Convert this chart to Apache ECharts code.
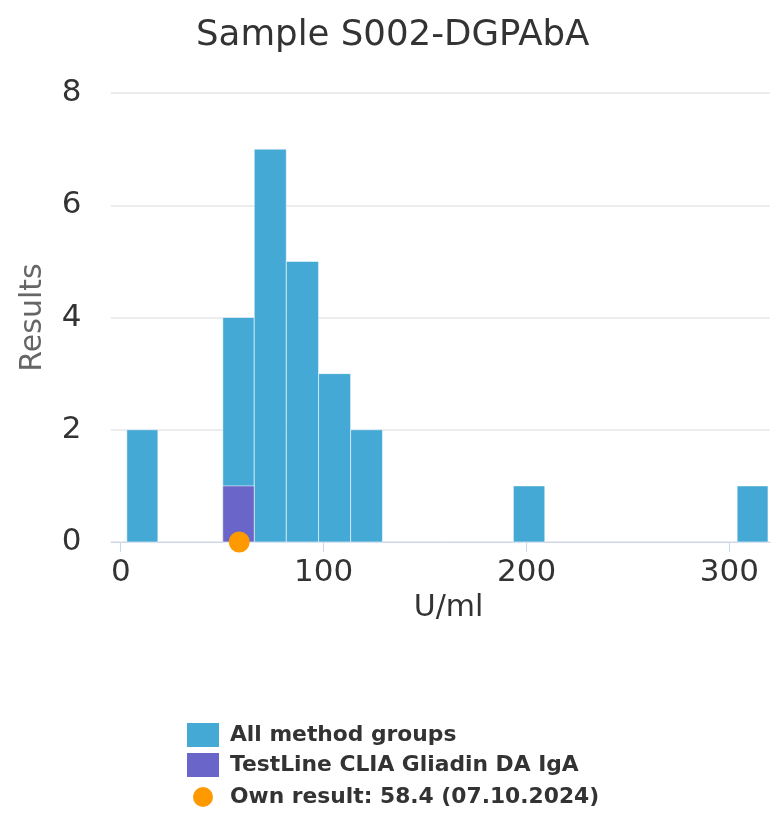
<!DOCTYPE html>
<html>
<head>
<meta charset="utf-8">
<script src="https://cdn.jsdelivr.net/npm/echarts@6/dist/echarts.min.js"></script>
<style>html,body{margin:0;padding:0;background:#fff}#c{width:775px;height:815px}</style>
</head>
<body>
<div id="c"></div>
<script>
// Histogram bins (U/ml) and counts
var allLo = [3, 50.3, 65.8, 81.6, 97.5, 113.3, 193.5, 303.8];
var allHi = [18.3, 65.8, 81.6, 97.5, 113.3, 129, 209, 319];
var allCounts = [2, 4, 7, 5, 3, 2, 1, 1];
var grpLo = [50.3];
var grpHi = [65.8];
var grpCounts = [1];
var ownResult = [58.4];
var xTicks = [0, 100, 200, 300];
var titleText = 'Sample S002-DGPAbA';
var seriesNames = ['All method groups', 'TestLine CLIA Gliadin DA IgA', 'Own result: 58.4 (07.10.2024)'];

function rows(lo, hi, c) { return lo.map(function (v, i) { return [v, hi[i], c[i]]; }); }
function renderBin(params, api) {
  var p1 = api.coord([api.value(0), api.value(2)]);
  var p2 = api.coord([api.value(1), 0]);
  return {
    type: 'rect',
    shape: { x: p1[0], y: p1[1], width: p2[0] - p1[0], height: p2[1] - p1[1] },
    style: api.style({ stroke: 'rgba(255,255,255,0.55)', lineWidth: 1 })
  };
}
var FONT = 'DejaVu Sans';
var chart = echarts.init(document.getElementById('c'), null, { renderer: 'canvas' });
var legendText = { fontFamily: FONT, fontWeight: 'bold', fontSize: 21.8, color: '#333', lineHeight: 24, padding: [0, 0, 0, 6] };
chart.setOption({
  animation: false,
  title: {
    text: titleText, left: 196, top: 18, padding: 0,
    textStyle: { fontFamily: FONT, fontWeight: 'normal', fontSize: 35.6, color: '#333' }
  },
  legend: [
    { data: [seriesNames[0]], left: 187, top: 723, padding: 0, itemWidth: 32, itemHeight: 24, icon: 'rect', textStyle: legendText, selectedMode: false },
    { data: [seriesNames[1]], left: 187, top: 753, padding: 0, itemWidth: 32, itemHeight: 24, icon: 'rect', textStyle: legendText, selectedMode: false },
    { data: [seriesNames[2]], left: 193, top: 785, padding: 0, itemWidth: 32, itemHeight: 20, icon: 'circle', textStyle: legendText, selectedMode: false }
  ],
  grid: { left: 111, right: 5, top: 93, bottom: 273 },
  xAxis: {
    type: 'value', min: -4.8, max: 320,
    name: 'U/ml', nameLocation: 'middle', nameGap: 45,
    nameTextStyle: { fontFamily: FONT, fontSize: 30, color: '#333', padding: [0, 0, 0, 16] },
    axisLine: { show: true, lineStyle: { color: '#ccd6eb', width: 1 } },
    axisTick: { show: true, length: 10, lineStyle: { color: '#ccd6eb' }, customValues: xTicks },
    axisLabel: { fontFamily: FONT, fontSize: 31, color: '#333', margin: 15, customValues: xTicks },
    splitLine: { show: false }
  },
  yAxis: {
    type: 'value', min: 0, max: 8, interval: 2,
    name: 'Results', nameLocation: 'middle', nameGap: 63, nameRotate: 90,
    nameTextStyle: { fontFamily: FONT, fontSize: 30, color: '#666' },
    axisLine: { show: false }, axisTick: { show: false },
    axisLabel: { fontFamily: FONT, fontSize: 31, color: '#333', margin: 29.5 },
    splitLine: { lineStyle: { color: '#e6e6e6', width: 1.5 } }
  },
  series: [
    { name: seriesNames[0], type: 'custom', renderItem: renderBin, itemStyle: { color: '#45a9d6' },
      encode: { x: [0, 1], y: 2 }, data: rows(allLo, allHi, allCounts), z: 2 },
    { name: seriesNames[1], type: 'custom', renderItem: renderBin, itemStyle: { color: '#6a66c9' },
      encode: { x: [0, 1], y: 2 }, data: rows(grpLo, grpHi, grpCounts), z: 3 },
    { name: seriesNames[2], type: 'scatter', symbol: 'circle', symbolSize: 21, itemStyle: { color: '#ff9900', opacity: 1 },
      data: ownResult.map(function (v) { return [v, 0]; }), z: 5 }
  ]
});
</script>
</body>
</html>
